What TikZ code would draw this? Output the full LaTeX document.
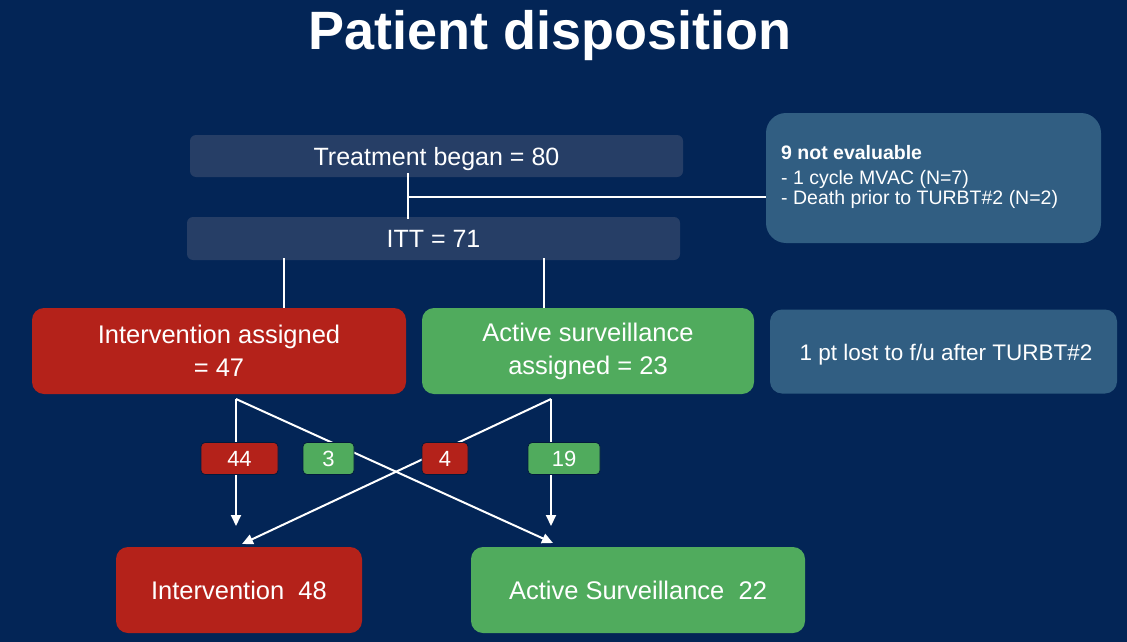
\documentclass[tikz,border=0pt]{standalone}
\usepackage{fontspec}
\setmainfont{Liberation Sans}
\usetikzlibrary{arrows.meta}
\definecolor{bg}{RGB}{3,37,86}
\definecolor{darkbox}{RGB}{38,62,102}
\definecolor{notebox}{RGB}{49,94,130}
\definecolor{redbox}{RGB}{180,34,26}
\definecolor{greenbox}{RGB}{80,171,93}
\begin{document}
\begin{tikzpicture}[x=1pt,y=-1pt,
  basebox/.style={inner sep=0pt, text=white, anchor=center, align=center},
  navybox/.style={basebox, fill=darkbox, rounded corners=6pt, text depth=0pt, font=\fontsize{25}{30}\selectfont},
  bigbox/.style={basebox, rounded corners=12pt, font=\fontsize{25.5}{33}\selectfont},
  redfill/.style={fill=redbox},
  greenfill/.style={fill=greenbox},
  numbox/.style={basebox, rounded corners=4pt, draw=bg!70!black, line width=0.8pt,
    minimum height=32pt, font=\fontsize{22}{24}\selectfont},
  notefill/.style={fill=notebox, inner sep=0pt},
  notetext/.style={text=white, inner sep=0pt, anchor=base west, font=\fontsize{19.5}{22}\selectfont},
  wline/.style={draw=white, line width=2pt},
  warrow/.style={wline, -{Triangle[width=10pt,length=11pt]}}
]
\fill[bg] (0,0) rectangle (1127,642);
\useasboundingbox (0,0) rectangle (1127,642);

% title
\node[text=white, anchor=base, inner sep=0pt, font=\fontsize{54}{60}\selectfont\bfseries] (title) at (550,50) {Patient disposition};

% top boxes
\node[navybox, minimum width=493pt, minimum height=42pt] (treat) at (436.5,156) {Treatment began = 80};
\node[navybox, minimum width=493pt, minimum height=43pt] (itt) at (433.5,238.5) {ITT = 71};

% note boxes
\node[notefill, rounded corners=20pt, minimum width=335pt, minimum height=130pt] (note1) at (933.5,178) {};
\node[notetext, font=\fontsize{19.5}{22}\selectfont\bfseries] (n1a) at (781,159) {9 not evaluable};
\node[notetext] (n1b) at (781,184) {- 1 cycle MVAC (N=7)};
\node[notetext] (n1c) at (781,204) {- Death prior to TURBT\#2 (N=2)};

\node[notefill, rounded corners=12pt, minimum width=347pt, minimum height=84pt] (note2) at (943.5,351.5) {};
\node[text=white, inner sep=0pt, anchor=base, font=\fontsize{22.5}{26}\selectfont] (n2) at (946,360) {1 pt lost to f/u after TURBT\#2};

% assigned boxes
\node[bigbox, redfill, minimum width=374pt, minimum height=86pt] (ia) at (219,351) {Intervention assigned\\= 47};
\node[bigbox, greenfill, minimum width=332pt, minimum height=86pt] (as) at (588,351) {Active surveillance\\assigned = 23};

% final boxes
\node[bigbox, redfill, minimum width=246pt, minimum height=86pt] (i48) at (239,590) {Intervention\ \ 48};
\node[bigbox, greenfill, minimum width=334pt, minimum height=86pt] (a22) at (638,590) {Active Surveillance\ \ 22};

% connector points
\coordinate (tx) at (408,0);
\coordinate (jn) at (408,197);
\coordinate (l1) at (284,0);
\coordinate (l2) at (544,0);
\coordinate (iaout) at (236,399);
\coordinate (asout) at (551,399);
\coordinate (tipA) at (236,526);
\coordinate (tipB) at (553,543);
\coordinate (tipC) at (551,526);
\coordinate (tipD) at (242,544);

% lines
\draw[wline] ([yshift=4pt]treat.south -| tx) -- ([yshift=-2pt]itt.north -| tx);
\draw[wline] (jn) -- (jn -| note1.west);
\draw[wline] ([yshift=2pt]itt.south -| l1) -- (ia.north -| l1);
\draw[wline] ([yshift=2pt]itt.south -| l2) -- (as.north -| l2);

\draw[warrow] (iaout) -- (tipA);
\draw[warrow] (iaout) -- (tipB);
\draw[warrow] (asout) -- (tipC);
\draw[warrow] (asout) -- (tipD);

% count boxes (on top of lines)
\node[numbox, redfill, minimum width=77pt] (c44) at (239.5,458.5) {44};
\node[numbox, greenfill, minimum width=51pt] (c3) at (328.5,458.5) {3};
\node[numbox, redfill, minimum width=46pt] (c4) at (445,458.5) {4};
\node[numbox, greenfill, minimum width=72pt] (c19) at (564,458.5) {19};
\end{tikzpicture}
\end{document}
